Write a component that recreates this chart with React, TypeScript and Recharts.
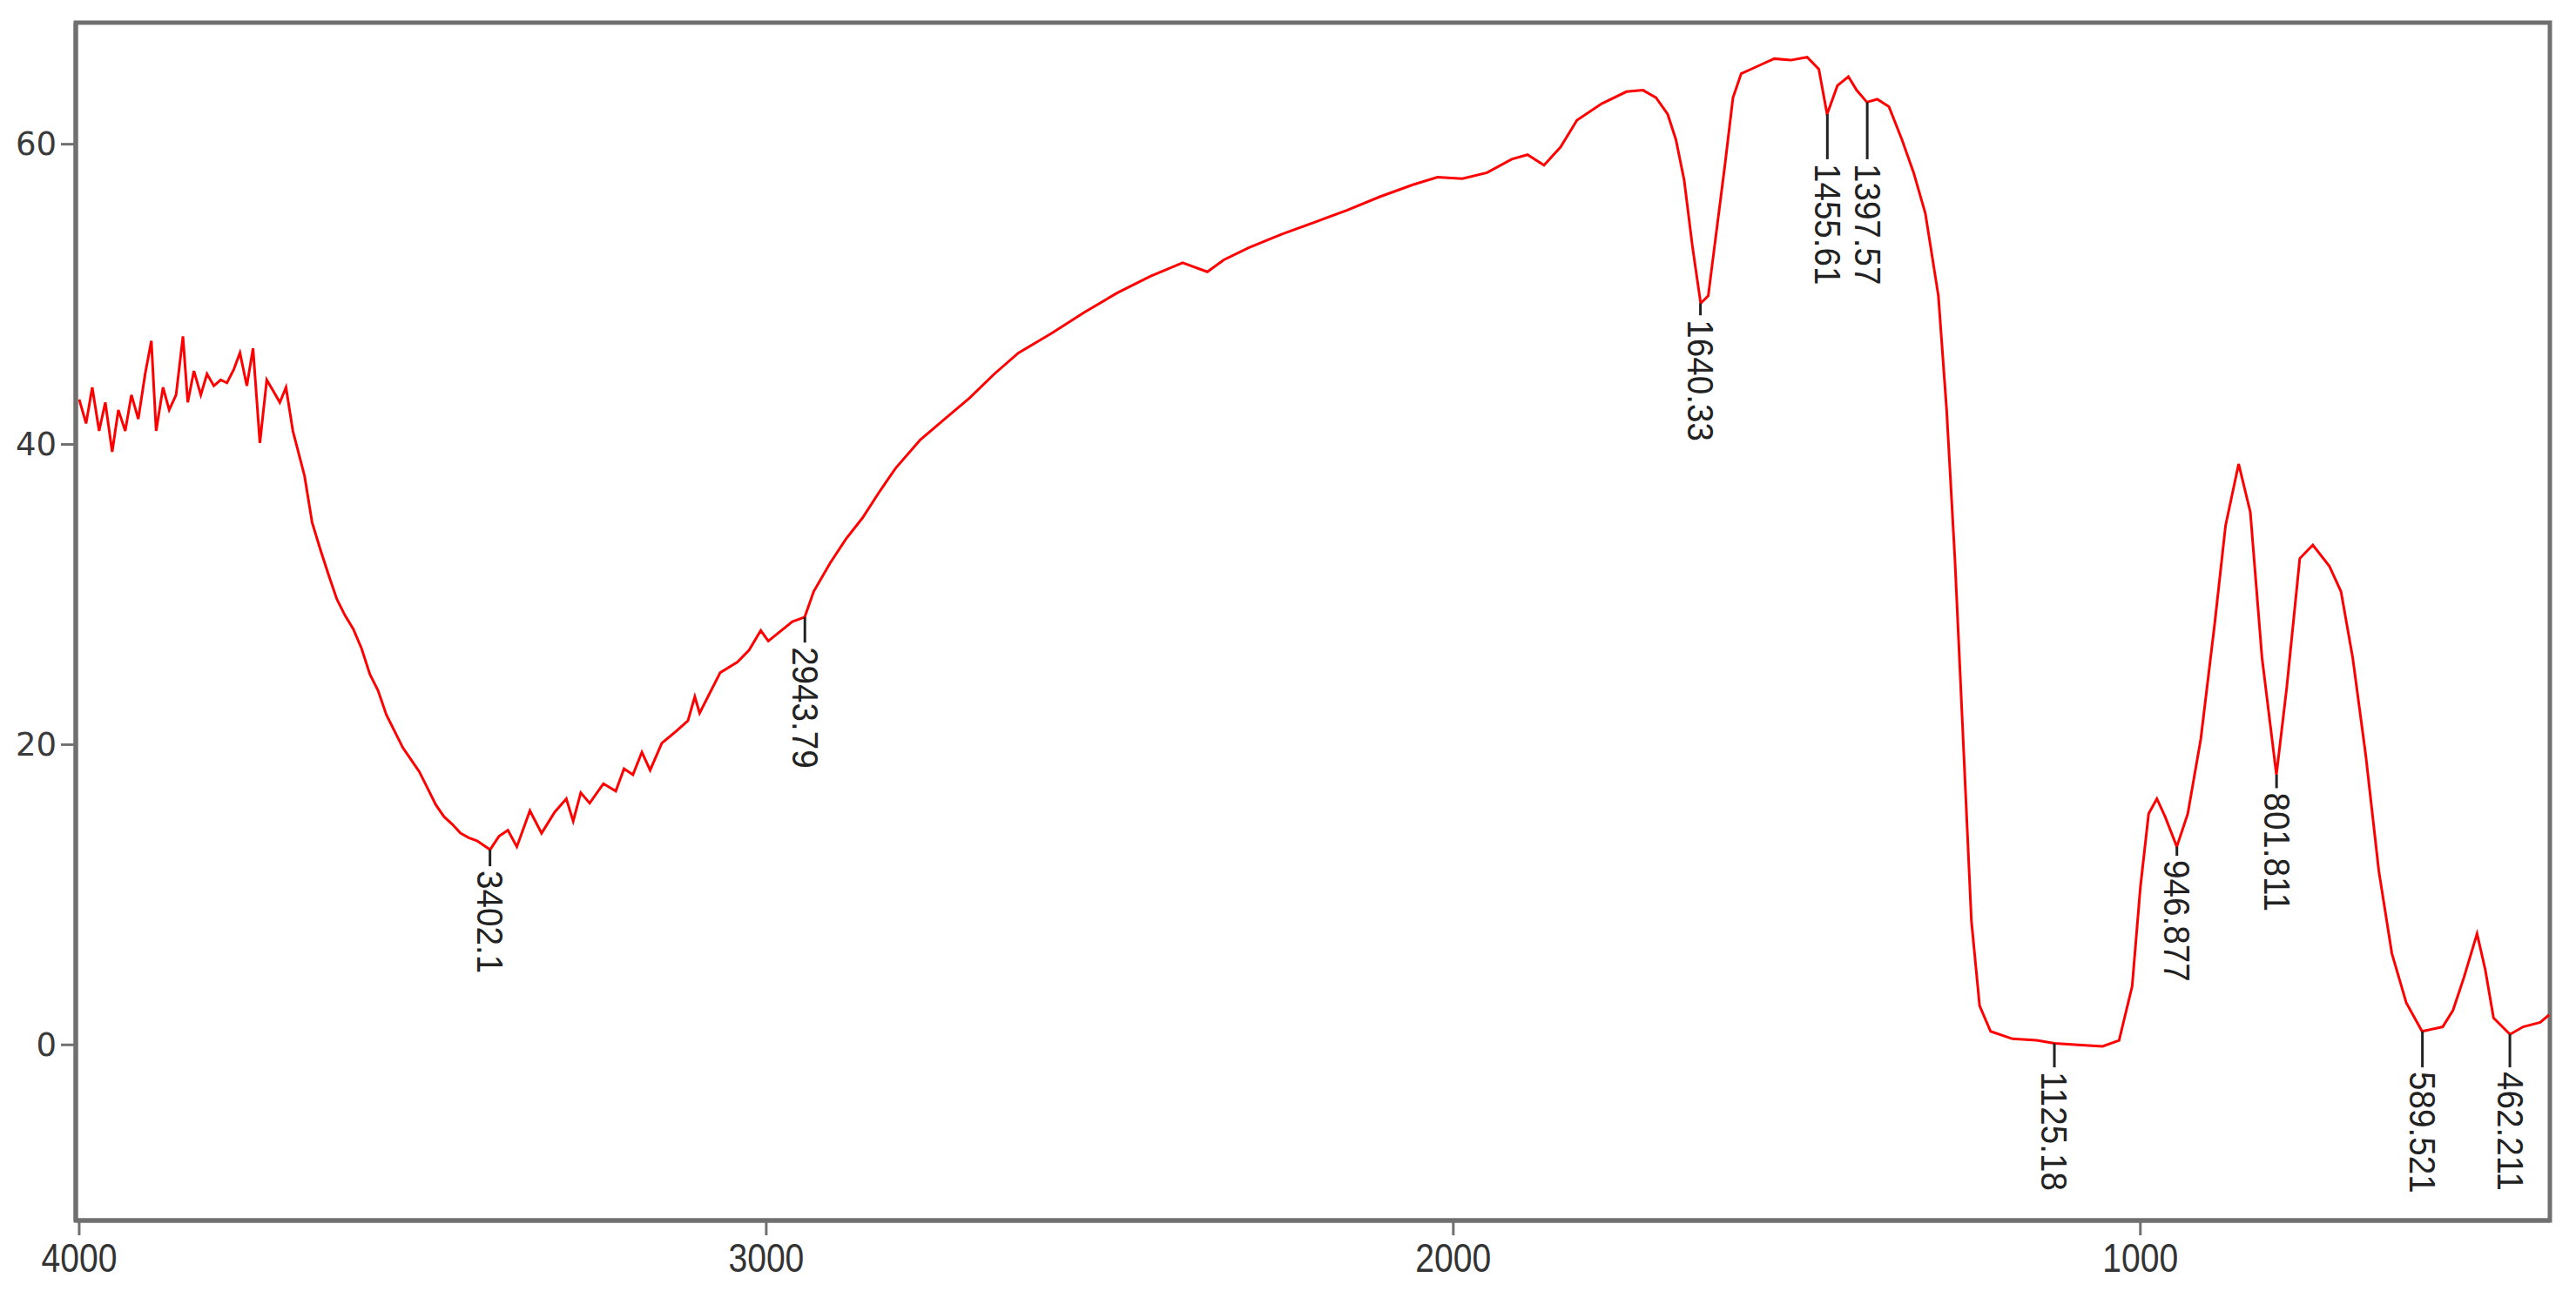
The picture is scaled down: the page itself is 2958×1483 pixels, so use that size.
import { LineChart, Line, XAxis, YAxis, ReferenceLine, ReferenceArea } from "recharts"

// FTIR spectrum, wavenumber (cm-1) vs transmittance
const wavenumber = [
  4000, 3990, 3981, 3971, 3962, 3952, 3943, 3933, 3924, 3914,
  3904, 3895, 3888, 3878, 3869, 3859, 3849, 3842, 3833, 3823,
  3814, 3804, 3794, 3785, 3775, 3766, 3756, 3747, 3737, 3727,
  3718, 3708, 3699, 3689, 3672, 3661, 3649, 3637, 3625, 3613,
  3601, 3589, 3577, 3565, 3553, 3541, 3529, 3517, 3505, 3493,
  3481, 3469, 3457, 3445, 3433, 3421, 3402, 3389, 3376, 3363,
  3344, 3327, 3308, 3291, 3281, 3270, 3257, 3237, 3219, 3207,
  3194, 3181, 3169, 3152, 3131, 3114, 3104, 3097, 3067, 3042,
  3025, 3008, 2997, 2962, 2944, 2931, 2907, 2884, 2860,
  2836, 2812, 2776, 2740, 2704, 2668, 2633, 2585, 2537, 2489,
  2441, 2394, 2358, 2334, 2298, 2250, 2202, 2155, 2107, 2059,
  2023, 1987, 1951, 1915, 1892, 1868, 1844, 1820, 1784, 1748,
  1724, 1705, 1688, 1676, 1664, 1652, 1640, 1629, 1617, 1605,
  1593, 1581, 1557, 1533, 1509, 1485, 1468, 1456, 1441, 1425,
  1413, 1398, 1383, 1366, 1347, 1330, 1313, 1294, 1282, 1270,
  1258, 1246, 1234, 1218, 1186, 1151, 1125, 1091, 1055, 1031,
  1012, 1000, 988, 976, 964, 947, 931, 912, 892, 876,
  857, 840, 823, 802, 787, 768, 749, 725, 708, 691,
  672, 653, 634, 613, 590, 560, 545, 529, 510, 498,
  486, 462, 443, 418, 405,
]
const transmittance = [
  43.0, 41.4, 43.8, 40.9, 42.8, 39.5, 42.3, 40.9, 43.3, 41.7,
  44.7, 46.9, 40.9, 43.8, 42.3, 43.3, 47.2, 42.8, 44.9, 43.3,
  44.7, 43.9, 44.3, 44.1, 45.0, 46.1, 43.9, 46.4, 40.1, 44.3,
  43.6, 42.8, 43.8, 40.9, 37.9, 34.8, 33.0, 31.3, 29.7, 28.6,
  27.7, 26.4, 24.7, 23.6, 22.0, 20.9, 19.8, 19.0, 18.2, 17.1,
  16.0, 15.2, 14.7, 14.1, 13.8, 13.6, 13.0, 13.9, 14.3, 13.2,
  15.6, 14.1, 15.5, 16.4, 14.9, 16.8, 16.1, 17.4, 16.9, 18.4,
  18.0, 19.5, 18.3, 20.1, 20.9, 21.6, 23.2, 22.1, 24.8, 25.5,
  26.3, 27.6, 26.9, 28.2, 28.5, 30.2, 32.1, 33.7, 35.1,
  36.8, 38.4, 40.3, 41.7, 43.1, 44.7, 46.1, 47.4, 48.8, 50.1,
  51.2, 52.1, 51.5, 52.3, 53.1, 54.0, 54.8, 55.6, 56.5, 57.3,
  57.8, 57.7, 58.1, 59.0, 59.3, 58.6, 59.8, 61.6, 62.7, 63.5,
  63.6, 63.1, 62.0, 60.3, 57.6, 53.2, 49.4, 49.9, 54.2, 58.5,
  63.1, 64.7, 65.2, 65.7, 65.6, 65.8, 65.0, 62.0, 63.9, 64.5,
  63.6, 62.8, 63.0, 62.5, 60.3, 58.1, 55.4, 49.9, 42.3, 32.4,
  20.4, 8.3, 2.6, 0.9, 0.4, 0.3, 0.1, 0.0, -0.1, 0.3,
  3.9, 10.5, 15.4, 16.4, 15.2, 13.2, 15.4, 20.4, 28.0, 34.6,
  38.7, 35.5, 25.8, 18.0, 23.8, 32.4, 33.3, 31.9, 30.2, 25.8,
  19.3, 11.6, 6.1, 2.8, 0.9, 1.2, 2.3, 4.5, 7.4, 5.0,
  1.8, 0.7, 1.2, 1.5, 2.0,
]

// peak picks: label, position, curve value, where the leader line stops
const peakNames = ["3402.1", "2943.79", "1640.33", "1455.61", "1397.57", "1125.18", "946.877", "801.811", "589.521", "462.211"]
const peakPos = [3402.1, 2943.79, 1640.33, 1455.61, 1397.57, 1125.18, 946.877, 801.811, 589.521, 462.211]
const peakValue = [13.0, 28.5, 49.4, 62.0, 62.8, 0.1, 13.2, 18.0, 0.9, 0.7]
const leaderEnd = [11.9, 26.8, 48.6, 59.0, 59.0, -1.5, 12.6, 17.1, -1.5, -1.5]

const xTicks = [4000, 3000, 2000, 1000]
const yTicks = [0, 20, 40, 60]
const xDomain = [404, 4005]
const yDomain = [-11.7, 68.1]

const data = wavenumber.map((wn, i) => ({ wn, t: transmittance[i] }))

const FRAME = "#707070"

function XTick({ x, y, payload }: any) {
  return (
    <text transform={`translate(${x},${y}) scale(0.85,1)`} textAnchor="middle" dy="0.71em"
      fontSize={46} fill="#333" fontFamily="'Liberation Sans', Arial, sans-serif">
      {payload.value}
    </text>
  )
}

function YTick({ x, y, payload }: any) {
  return (
    <text x={x} y={y} textAnchor="end" dominantBaseline="central"
      fontSize={37} fill="#3a3a3a" fontFamily="'DejaVu Sans', Verdana, sans-serif">
      {payload.value}
    </text>
  )
}

function peakLabel(text: string) {
  return (props: any) => {
    const vb = props.viewBox
    const x = vb.x
    const y = vb.y + vb.height + 5
    return (
      <text transform={`translate(${x},${y}) rotate(90) scale(0.92,1)`} textAnchor="start"
        dominantBaseline="central" fontSize={42} fill="#222"
        fontFamily="'Liberation Sans', Arial, sans-serif">
        {text}
      </text>
    )
  }
}

export default function App() {
  return (
    <div style={{ width: 2950, height: 1475, background: "#fff" }}>
      <LineChart width={2950} height={1475} data={data}
        margin={{ top: 18, right: 30, bottom: 21, left: 0 }}>
        <XAxis dataKey="wn" type="number" domain={xDomain} reversed allowDataOverflow
          ticks={xTicks} height={60} tickSize={17} tickMargin={9}
          axisLine={{ stroke: FRAME, strokeWidth: 5 }} tickLine={{ stroke: FRAME, strokeWidth: 3 }}
          tick={<XTick />} />
        <YAxis type="number" domain={yDomain} allowDataOverflow ticks={yTicks} width={79}
          tickSize={17} tickMargin={5}
          axisLine={{ stroke: FRAME, strokeWidth: 5 }} tickLine={{ stroke: FRAME, strokeWidth: 3 }}
          tick={<YTick />} />
        <ReferenceArea x1={xDomain[1]} x2={xDomain[0]} y1={yDomain[0]} y2={yDomain[1]}
          fill="none" stroke={FRAME} strokeWidth={5} fillOpacity={0} ifOverflow="visible" />
        <Line type="linear" dataKey="t" stroke="#ff0000" strokeWidth={3} dot={false}
          isAnimationActive={false} />
        {peakNames.map((name, i) => (
          <ReferenceLine key={name}
            segment={[{ x: peakPos[i], y: peakValue[i] }, { x: peakPos[i], y: leaderEnd[i] }]}
            stroke="#222" strokeWidth={3} ifOverflow="visible"
            label={peakLabel(name)} />
        ))}
      </LineChart>
    </div>
  )
}
